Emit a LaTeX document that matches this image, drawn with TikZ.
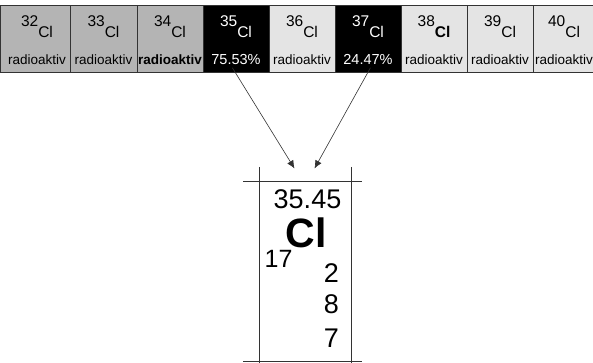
\documentclass[tikz,border=0pt]{standalone}
\usepackage{fontspec}
\setmainfont{Liberation Sans}
\usetikzlibrary{arrows.meta}
\definecolor{gdark}{HTML}{B4B4B4}
\definecolor{glight}{HTML}{E4E4E4}
\definecolor{lineg}{HTML}{333333}
\tikzset{
  iso/.style={draw=lineg, line width=0.8pt, minimum height=67pt, inner sep=0pt, anchor=north west},
  isonum/.style={anchor=base, font=\fontsize{15.5}{16}\selectfont, inner sep=0pt},
  isolab/.style={anchor=base, font=\fontsize{13.5}{14}\selectfont, inner sep=0pt},
  celltxt/.style={anchor=base, inner sep=0pt},
  cellline/.style={draw=lineg, line width=0.7pt},
  arr/.style={draw=lineg, line width=0.6pt, -{Latex[length=8pt,width=7pt]}}
}
\begin{document}
\begin{tikzpicture}[x=1pt,y=-1pt]
\useasboundingbox (0,0) rectangle (593,363);
% isotope boxes
\node[iso, fill=gdark,  minimum width=70pt] (b32) at (0,5) {};
\node[iso, fill=gdark,  minimum width=67pt] (b33) at (70,5) {};
\node[iso, fill=gdark,  minimum width=66pt] (b34) at (137,5) {};
\node[iso, fill=black,  minimum width=66pt] (b35) at (203,5) {};
\node[iso, fill=glight, minimum width=66pt] (b36) at (269,5) {};
\node[iso, fill=black,  minimum width=66pt] (b37) at (335,5) {};
\node[iso, fill=glight, minimum width=66pt] (b38) at (401,5) {};
\node[iso, fill=glight, minimum width=66pt] (b39) at (467,5) {};
\node[iso, fill=glight, minimum width=62pt] (b40) at (533,5) {};
% labels
\node[isonum] (n32) at (37,38) {\raisebox{11pt}{32}Cl};
\node[isonum] (n33) at (103.5,38) {\raisebox{11pt}{33}Cl};
\node[isonum] (n34) at (170,38) {\raisebox{11pt}{34}Cl};
\node[isonum, text=white] (n35) at (236,38) {\raisebox{11pt}{35}Cl};
\node[isonum] (n36) at (302,38) {\raisebox{11pt}{36}Cl};
\node[isonum, text=white] (n37) at (368,38) {\raisebox{11pt}{37}Cl};
\node[isonum] (n38) at (434,38) {\raisebox{11pt}{38}\textbf{Cl}};
\node[isonum] (n39) at (500,38) {\raisebox{11pt}{39}Cl};
\node[isonum] (n40) at (564,38) {\raisebox{11pt}{40}Cl};
\node[isolab] (r32) at (37,65) {radioaktiv};
\node[isolab] (r33) at (103.5,65) {radioaktiv};
\node[isolab] (r34) at (170,65) {\textbf{radioaktiv}};
\node[isolab, text=white, font=\fontsize{14.5}{15}\selectfont] (r35) at (236,65) {75.53\%};
\node[isolab] (r36) at (302,65) {radioaktiv};
\node[isolab, text=white, font=\fontsize{14.5}{15}\selectfont] (r37) at (368,65) {24.47\%};
\node[isolab] (r38) at (434,65) {radioaktiv};
\node[isolab] (r39) at (500,65) {radioaktiv};
\node[isolab] (r40) at (564,65) {radioaktiv};
% element cell
\draw[cellline] (259,167) -- (259,363);
\draw[cellline] (351,167) -- (351,363);
\draw[cellline] (243,181) -- (362,181);
\draw[cellline] (243,361) -- (362,361);
\node[celltxt, font=\fontsize{27}{27}\selectfont] (mass) at (307.5,208) {35.45};
\node[celltxt, font=\fontsize{41}{41}\selectfont\bfseries] (sym) at (306,247.5) {Cl};
\node[celltxt, font=\fontsize{25}{25}\selectfont] (z) at (278.5,267.5) {17};
\node[celltxt, font=\fontsize{27}{27}\selectfont] (e1) at (331.5,282) {2};
\node[celltxt, font=\fontsize{27}{27}\selectfont] (e2) at (331.5,313) {8};
\node[celltxt, font=\fontsize{27}{27}\selectfont] (e3) at (331.5,347) {7};
% arrows
\coordinate (t1) at (294.5,168.5);
\coordinate (t2) at (314.5,168.5);
\draw[arr] ([xshift=-4pt,yshift=5pt]b35.south) -- (t1);
\draw[arr] ([xshift=2pt,yshift=5pt]b37.south) -- (t2);
\end{tikzpicture}
\end{document}
